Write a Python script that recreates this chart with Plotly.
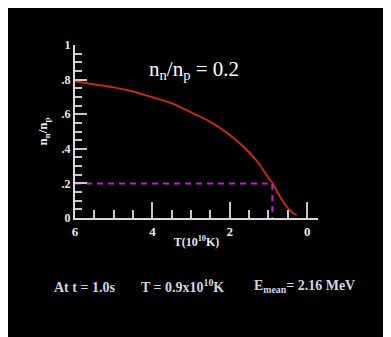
import plotly.graph_objects as go

# Data
temps = [6.0, 5.5, 5.0, 4.5, 4.0, 3.5, 3.0, 2.5, 2.0, 1.5, 1.25, 1.0, 0.9, 0.75, 0.6, 0.45, 0.35, 0.27]
ratio = [0.79, 0.772, 0.755, 0.731, 0.698, 0.663, 0.61, 0.556, 0.48, 0.38, 0.315, 0.232, 0.204, 0.142, 0.088, 0.045, 0.026, 0.019]
freeze_T = 0.9
freeze_ratio = 0.2
y_ticks = [0, 0.2, 0.4, 0.6, 0.8, 1.0]
y_ticklabels = ["0", ".2", ".4", ".6", ".8", "1"]
x_ticks = [6, 4, 2, 0]
x_ticklabels = ["6", "4", "2", "0"]
footer_texts = ["At t = 1.0s", "T = 0.9x10<sup>10</sup>K", "E<sub>mean</sub>= 2.16 MeV"]

SERIF = "Liberation Serif"

fig = go.Figure()

fig.add_trace(go.Scatter(
    x=temps, y=ratio, mode="lines",
    line=dict(color="#c42a18", width=2, shape="spline"),
    hoverinfo="skip", showlegend=False,
))
# freeze-out marker lines
fig.add_trace(go.Scatter(
    x=[temps[0], freeze_T, freeze_T], y=[freeze_ratio, freeze_ratio, 0],
    mode="lines",
    line=dict(color="#c21ad6", width=2, dash="6px,5px"),
    hoverinfo="skip", showlegend=False,
))

W, H = 383, 329
OFF = 8  # page body margin
L, T = 75 - OFF, 45 - OFF
R = W - (318 - OFF)
B = H - (218.5 - OFF)
pw = W - L - R
ph = H - T - B

def px_x(p):
    return (p - OFF - L) / pw

def px_y(p):
    return (H - B - (p - OFF)) / ph

fig.update_layout(
    width=W, height=H,
    margin=dict(l=L, r=R, t=T, b=B, pad=0),
    paper_bgcolor="black",
    plot_bgcolor="black",
    showlegend=False,
    font=dict(family=SERIF, color="#e8e8ec"),
)

fig.update_xaxes(
    range=[6, -0.28],
    showgrid=False, zeroline=False,
    showline=True, linecolor="#d8d8dc", linewidth=2,
    ticks="inside", ticklen=16, tickwidth=1.5, tickcolor="#c8c8cc",
    tickvals=x_ticks, ticktext=x_ticklabels,
    tickfont=dict(family=SERIF, size=13, color="#e8e8ec", weight="bold"),
    minor=dict(ticks="inside", ticklen=8, tickwidth=1.5, tickcolor="#c8c8cc", dtick=0.5, tick0=0, showgrid=False),
    title=dict(text="<b>T(10<sup>10</sup>K)</b>", font=dict(family=SERIF, size=12, color="#e8e8ec"), standoff=0),
)
fig.update_yaxes(
    range=[0, 1],
    showgrid=False, zeroline=False,
    showline=True, linecolor="#d8d8dc", linewidth=2,
    ticks="inside", ticklen=12, tickwidth=1.5, tickcolor="#c8c8cc",
    tickvals=y_ticks, ticktext=y_ticklabels,
    tickfont=dict(family=SERIF, size=12, color="#e8e8ec", weight="bold"),
    minor=dict(ticks="inside", ticklen=7, tickwidth=1.5, tickcolor="#c8c8cc", dtick=0.05, tick0=0, showgrid=False),
    title=dict(text="<b>n<sub>n</sub>/n<sub>p</sub></b>", font=dict(family=SERIF, size=13, color="#e8e8ec"), standoff=11),
)

fig.add_annotation(
    text="n<sub>n</sub>/n<sub>p</sub> = 0.2", xref="paper", yref="paper",
    x=px_x(194), y=px_y(55), showarrow=False,
    font=dict(family=SERIF, size=21, color="white"),
)
footer_x = [52, 139, 252]
for txt, fx in zip(footer_texts, footer_x):
    fig.add_annotation(
        text="<b>" + txt + "</b>",
        xref="paper", yref="paper", xanchor="left",
        x=px_x(fx), y=px_y(298), showarrow=False,
        font=dict(family=SERIF, size=14, color="#d4d4e4"),
    )

fig.write_html("out.html")
